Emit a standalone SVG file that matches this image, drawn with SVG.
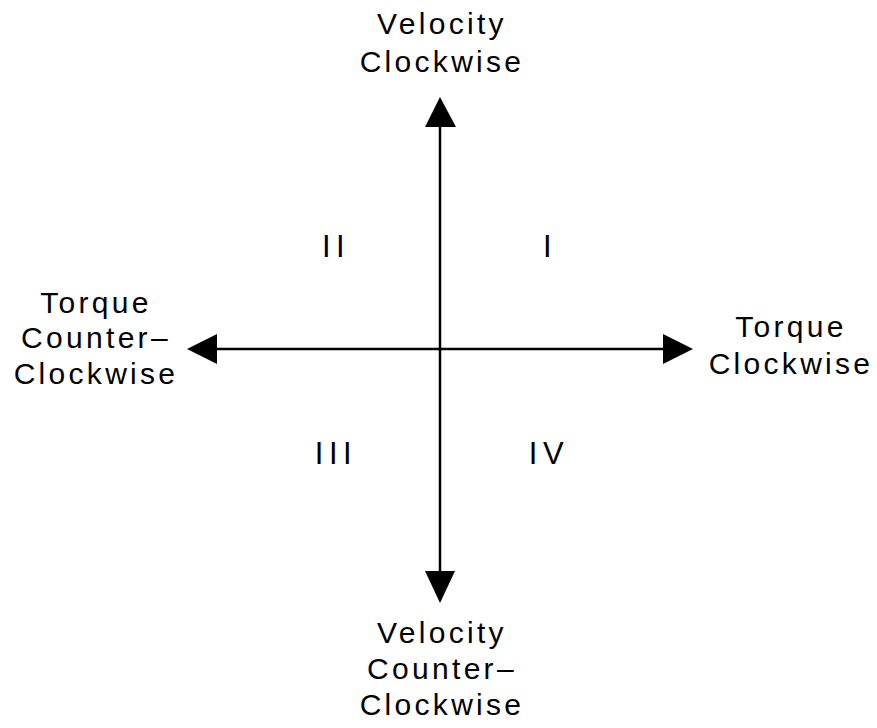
<svg xmlns="http://www.w3.org/2000/svg" width="877" height="728" viewBox="0 0 877 728">
<style>
.lbl{font-family:"Liberation Sans",Arial,sans-serif;font-size:30px;letter-spacing:3.3px;fill:#000;text-anchor:middle}
.num{font-family:"Liberation Sans",Arial,sans-serif;font-size:31px;letter-spacing:5.5px;fill:#000;text-anchor:middle}
.axis{stroke:#000;stroke-width:2.5;fill:none}
.head{fill:#000;stroke:none}
</style>
<rect width="877" height="728" fill="#fff"/>
<g id="connectors">
<line class="axis" x1="440" y1="120" x2="440" y2="578"/>
<line class="axis" x1="210" y1="349" x2="670" y2="349"/>
<polygon class="head" points="440,97 425,127 456,127"/>
<polygon class="head" points="440,603 425,571 455,571"/>
<polygon class="head" points="187,349 217,334 217,364"/>
<polygon class="head" points="693,349 663,334 663,364"/>
</g>
<g id="velocity-cw">
<text class="lbl" x="442" y="34">Velocity</text>
<text class="lbl" x="442" y="72">Clockwise</text>
</g>
<g id="velocity-ccw">
<text class="lbl" x="442" y="643">Velocity</text>
<text class="lbl" x="442" y="679">Counter–</text>
<text class="lbl" x="442" y="715">Clockwise</text>
</g>
<g id="torque-ccw">
<text class="lbl" x="96" y="313">Torque</text>
<text class="lbl" x="96" y="348">Counter–</text>
<text class="lbl" x="96" y="384">Clockwise</text>
</g>
<g id="torque-cw">
<text class="lbl" x="791" y="337">Torque</text>
<text class="lbl" x="791" y="374">Clockwise</text>
</g>
<g id="quadrant-1"><text class="num" x="550" y="257">I</text></g>
<g id="quadrant-2"><text class="num" x="336" y="257">II</text></g>
<g id="quadrant-3"><text class="num" x="336" y="464">III</text></g>
<g id="quadrant-4"><text class="num" x="549" y="464">IV</text></g>
</svg>
